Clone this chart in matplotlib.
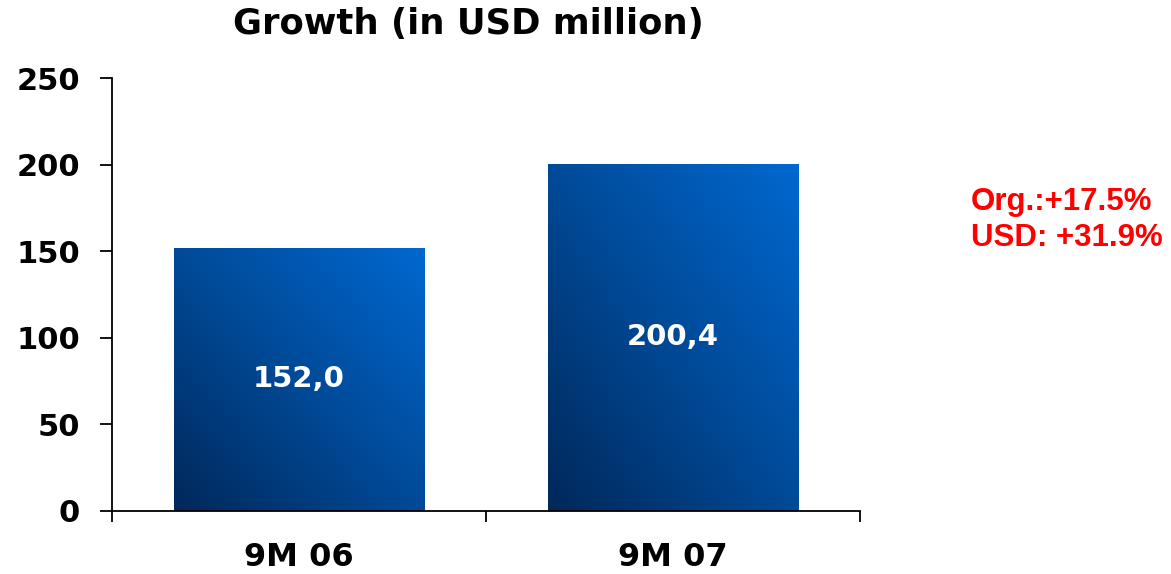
import numpy as np
import matplotlib.pyplot as plt
from matplotlib.colors import LinearSegmentedColormap
from matplotlib.patches import Rectangle

# Dane
periods = ["9M 06", "9M 07"]
values = [152.0, 200.4]
value_labels = ["152,0", "200,4"]
growth_notes = ["Org.:+17.5%", "USD: +31.9%"]

plt.rcParams['font.family'] = ['DejaVu Sans']
plt.rcParams['font.weight'] = 'bold'

W, H = 1171, 574
fig = plt.figure(figsize=(W / 100, H / 100), dpi=100)
ax = fig.add_axes([112 / W, 1 - 511 / H, (860 - 112) / W, (511 - 78) / H])

# Gradient w słupkach: ciemny granat (lewy dół) -> jasny niebieski (prawy góra)
cmap = LinearSegmentedColormap.from_list("bar_grad", ["#00285a", "#004a98", "#0068d0"])
gx, gy = np.meshgrid(np.linspace(0, 1, 200), np.linspace(0, 1, 200))
grad = (gx + gy) / 2

width = 0.67
bars = ax.bar(range(len(values)), values, width=width, color="none", edgecolor="none")
for bar, lab in zip(bars, value_labels):
    x0, y0 = bar.get_x(), bar.get_y()
    w, h = bar.get_width(), bar.get_height()
    im = ax.imshow(grad, cmap=cmap, origin="lower", aspect="auto",
                   extent=[x0, x0 + w, y0, y0 + h], zorder=2)
    clip = Rectangle((x0, y0), w, h, transform=ax.transData, facecolor="none", edgecolor="none")
    ax.add_patch(clip)
    im.set_clip_path(clip)
    ax.text(x0 + w / 2, y0 + h / 2, lab, ha="center", va="center",
            color="white", fontsize=21, fontweight="bold", zorder=3)

ax.set_xlim(-0.5, 1.5)
ax.set_ylim(0, 250)
ax.set_yticks(range(0, 251, 50))
ax.tick_params(axis="y", length=9, width=1.3, pad=14, labelsize=22, direction="out")

# Podpisy kategorii na środku, znaczniki na granicach kategorii
ax.set_xticks([-0.5, 0.5, 1.5])
ax.set_xticklabels([])
ax.set_xticks([0, 1], minor=True)
ax.set_xticklabels(periods, minor=True, fontsize=23, fontweight="bold")
ax.tick_params(axis="x", which="major", length=8, width=1.3, direction="out")
ax.tick_params(axis="x", which="minor", length=0, pad=22.5)

for s in ["top", "right"]:
    ax.spines[s].set_visible(False)
for s in ["left", "bottom"]:
    ax.spines[s].set_linewidth(1.3)

fig.text(468 / W, 1 - 34 / H, "Growth (in USD million)", fontsize=25.5,
         fontweight="bold", ha="center", va="baseline")

# Komentarz o wzroście po prawej stronie
for note, y in zip(growth_notes, [210, 246]):
    fig.text(971 / W, 1 - y / H, note, color="red", fontsize=22.5,
             family=["Liberation Sans", "DejaVu Sans"],
             fontweight="bold", ha="left", va="baseline")

fig.savefig("out.png", dpi=100)
